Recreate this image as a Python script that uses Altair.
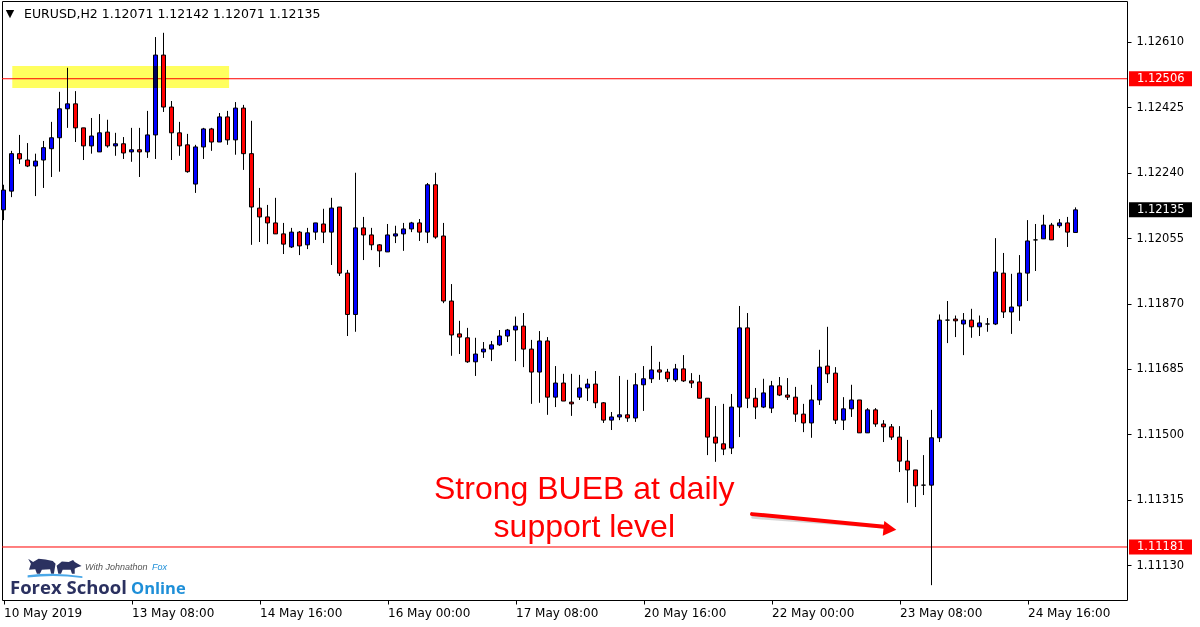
import altair as alt
import pandas as pd

# EURUSD, H2 candles (oldest first), one entry per bar
opens = [1.12135, 1.12188, 1.12294, 1.12276, 1.12259, 1.12276, 1.12308, 1.12339, 1.12421, 1.12435,
         1.12367, 1.12316, 1.12299, 1.12355, 1.12316, 1.12322, 1.12299, 1.12305, 1.12299, 1.12347,
         1.12573, 1.12426, 1.12353, 1.12319, 1.12208, 1.12313, 1.12364, 1.12327, 1.12398, 1.12333,
         1.12423, 1.12294, 1.12140, 1.12115, 1.12098, 1.12067, 1.12030, 1.12072, 1.12036, 1.12072,
         1.12095, 1.12072, 1.12143, 1.11956, 1.11839, 1.12084, 1.12064, 1.12036, 1.12016, 1.12061,
         1.12067, 1.12081, 1.12098, 1.12072, 1.12206, 1.12061, 1.11877, 1.11784, 1.11773, 1.11705,
         1.11733, 1.11741, 1.11753, 1.11778, 1.11795, 1.11806, 1.11741, 1.11676, 1.11764, 1.11605,
         1.11645, 1.11591, 1.11605, 1.11631, 1.11642, 1.11589, 1.11540, 1.11549, 1.11555, 1.11546,
         1.11640, 1.11657, 1.11682, 1.11676, 1.11654, 1.11685, 1.11651, 1.11648, 1.11602, 1.11492,
         1.11473, 1.11461, 1.11577, 1.11801, 1.11602, 1.11577, 1.11574, 1.11637, 1.11611, 1.11605,
         1.11557, 1.11532, 1.11597, 1.11693, 1.11673, 1.11540, 1.11572, 1.11597, 1.11504, 1.11569,
         1.11529, 1.11521, 1.11492, 1.11424, 1.11399, 1.11356, 1.11356, 1.11490, 1.11823, 1.11826,
         1.11812, 1.11823, 1.11804, 1.11812, 1.11812, 1.11956, 1.11846, 1.11863, 1.11956, 1.12050,
         1.12053, 1.12092, 1.12090, 1.12098, 1.12071]
highs = [1.12206, 1.12302, 1.12347, 1.12324, 1.12294, 1.12330, 1.12384, 1.12469, 1.12537, 1.12471,
         1.12367, 1.12395, 1.12406, 1.12390, 1.12353, 1.12341, 1.12367, 1.12367, 1.12415, 1.12624,
         1.12636, 1.12443, 1.12384, 1.12350, 1.12319, 1.12367, 1.12367, 1.12409, 1.12415, 1.12440,
         1.12432, 1.12387, 1.12197, 1.12149, 1.12169, 1.12098, 1.12084, 1.12075, 1.12084, 1.12098,
         1.12138, 1.12169, 1.12143, 1.11965, 1.12240, 1.12115, 1.12084, 1.12038, 1.12095, 1.12090,
         1.12098, 1.12101, 1.12109, 1.12211, 1.12240, 1.12098, 1.11925, 1.11821, 1.11801, 1.11773,
         1.11761, 1.11764, 1.11795, 1.11798, 1.11833, 1.11843, 1.11767, 1.11792, 1.11775, 1.11693,
         1.11671, 1.11671, 1.11668, 1.11657, 1.11679, 1.11591, 1.11563, 1.11665, 1.11654, 1.11673,
         1.11693, 1.11750, 1.11705, 1.11685, 1.11699, 1.11724, 1.11673, 1.11668, 1.11602, 1.11580,
         1.11586, 1.11614, 1.11863, 1.11843, 1.11631, 1.11657, 1.11651, 1.11662, 1.11659, 1.11634,
         1.11586, 1.11640, 1.11739, 1.11804, 1.11690, 1.11605, 1.11640, 1.11597, 1.11574, 1.11574,
         1.11540, 1.11529, 1.11523, 1.11484, 1.11399, 1.11441, 1.11569, 1.11839, 1.11877, 1.11836,
         1.11843, 1.11855, 1.11836, 1.11829, 1.12055, 1.12013, 1.11954, 1.12007, 1.12106, 1.12095,
         1.12121, 1.12098, 1.12109, 1.12115, 1.12142]
lows = [1.12106, 1.12171, 1.12265, 1.12256, 1.12174, 1.12197, 1.12228, 1.12243, 1.12367, 1.12327,
        1.12276, 1.12294, 1.12299, 1.12311, 1.12288, 1.12279, 1.12271, 1.12228, 1.12282, 1.12279,
        1.12412, 1.12276, 1.12288, 1.12240, 1.12183, 1.12279, 1.12302, 1.12327, 1.12319, 1.12291,
        1.12248, 1.12036, 1.12044, 1.12038, 1.12067, 1.12010, 1.12027, 1.12007, 1.12024, 1.12050,
        1.12041, 1.11979, 1.11948, 1.11778, 1.11790, 1.11993, 1.12021, 1.11973, 1.12016, 1.12041,
        1.12019, 1.12072, 1.12047, 1.12041, 1.12053, 1.11871, 1.11722, 1.11727, 1.11702, 1.11665,
        1.11716, 1.11707, 1.11750, 1.11761, 1.11707, 1.11690, 1.11586, 1.11589, 1.11555, 1.11577,
        1.11594, 1.11552, 1.11597, 1.11594, 1.11574, 1.11532, 1.11512, 1.11540, 1.11535, 1.11535,
        1.11566, 1.11645, 1.11654, 1.11648, 1.11648, 1.11648, 1.11631, 1.11602, 1.11441, 1.11422,
        1.11441, 1.11444, 1.11492, 1.11574, 1.11543, 1.11574, 1.11560, 1.11608, 1.11597, 1.11535,
        1.11506, 1.11490, 1.11583, 1.11645, 1.11529, 1.11512, 1.11549, 1.11504, 1.11504, 1.11521,
        1.11478, 1.11484, 1.11393, 1.11306, 1.11294, 1.11328, 1.11073, 1.11478, 1.11758, 1.11775,
        1.11724, 1.11773, 1.11778, 1.11790, 1.11809, 1.11829, 1.11784, 1.11821, 1.11877, 1.11962,
        1.12053, 1.12050, 1.12084, 1.12030, 1.12071]
closes = [1.12191, 1.12294, 1.12279, 1.12259, 1.12273, 1.12311, 1.12339, 1.12421, 1.12435, 1.12367,
          1.12316, 1.12344, 1.12353, 1.12316, 1.12322, 1.12296, 1.12305, 1.12299, 1.12347, 1.12573,
          1.12426, 1.12353, 1.12316, 1.12243, 1.12313, 1.12364, 1.12327, 1.12398, 1.12333, 1.12423,
          1.12294, 1.12143, 1.12115, 1.12098, 1.12067, 1.12038, 1.12072, 1.12033, 1.12070, 1.12098,
          1.12072, 1.12140, 1.11956, 1.11839, 1.12084, 1.12064, 1.12036, 1.12019, 1.12064, 1.12067,
          1.12081, 1.12098, 1.12072, 1.12206, 1.12058, 1.11877, 1.11781, 1.11775, 1.11705, 1.11727,
          1.11741, 1.11753, 1.11778, 1.11795, 1.11806, 1.11741, 1.11676, 1.11764, 1.11605, 1.11645,
          1.11594, 1.11586, 1.11631, 1.11642, 1.11589, 1.11540, 1.11549, 1.11555, 1.11546, 1.11640,
          1.11657, 1.11682, 1.11676, 1.11657, 1.11685, 1.11651, 1.11645, 1.11602, 1.11492, 1.11475,
          1.11458, 1.11577, 1.11801, 1.11602, 1.11577, 1.11617, 1.11637, 1.11611, 1.11605, 1.11557,
          1.11532, 1.11597, 1.11690, 1.11671, 1.11540, 1.11572, 1.11597, 1.11504, 1.11569, 1.11529,
          1.11521, 1.11492, 1.11424, 1.11399, 1.11354, 1.11356, 1.11490, 1.11823, 1.11823, 1.11821,
          1.11823, 1.11804, 1.11815, 1.11812, 1.11959, 1.11846, 1.11860, 1.11956, 1.12047, 1.12050,
          1.12092, 1.12050, 1.12098, 1.12072, 1.12135]

# time axis: a label every 16 bars (32 hours)
time_tick_bars = [0, 16, 32, 48, 64, 80, 96, 112, 128]
time_tick_labels = ["10 May 2019", "13 May 08:00", "14 May 16:00", "16 May 00:00", "17 May 08:00",
                    "20 May 16:00", "22 May 00:00", "23 May 08:00", "24 May 16:00"]
price_ticks = [1.11130, 1.11315, 1.11500, 1.11685, 1.11870, 1.12055, 1.12240, 1.12425, 1.12610]

# horizontal levels and the current price
level_prices = [1.12506, 1.11181]
last_price = [1.12135]

# resistance zone (bar index / price bounds)
zone_start = [1.1]
zone_end = [28.2]
zone_top = [1.12542]
zone_bottom = [1.12480]

# annotation text and arrow (bar index / price coordinates)
note_lines = ["Strong BUEB at daily", "support level"]
note_x = [72.6, 72.6]
note_y = [1.11317, 1.11209]
arrow_x = [93.56]
arrow_x2 = [110.1]
arrow_y = [1.11274]
arrow_y2 = [1.11238]
arrow_head_x = [110.8]
arrow_head_y = [1.11232]

BLUE = "#0000ff"
RED = "#ff0000"
FONT = "DejaVu Sans"

n = len(opens)
candles = pd.DataFrame({"bar": list(range(n)), "open": opens, "high": highs,
                        "low": lows, "close": closes})
candles["dir"] = ["up" if c > o else ("down" if c < o else "flat")
                  for o, c in zip(opens, closes)]

x_scale = alt.Scale(domain=[-0.1875, 140.4375], nice=False, zero=False, padding=0)
y_scale = alt.Scale(domain=[1.11031, 1.12726], nice=False, zero=False, padding=0)

label_array = "[" + ",".join("'%s'" % s for s in time_tick_labels) + "]"

x_axis = alt.Axis(values=time_tick_bars, labelExpr=label_array + "[round(datum.value/16)]",
                  labelAlign="left", labelBaseline="top", labelPadding=3, tickSize=4,
                  tickColor="black", domain=False, grid=False, title=None, labelFont=FONT,
                  labelFontSize=12, labelColor="black", labelFlush=False, labelOverlap=False)
y_axis = alt.Axis(values=price_ticks, format=".5f", orient="right", tickSize=4,
                  tickColor="black", labelPadding=5, domain=False, grid=False, title=None,
                  labelFont=FONT, labelFontSize=11.5, labelColor="black",
                  labelBaseline="middle", labelOverlap=False, labelFlush=False)


def X(field):
    return alt.X(field, scale=x_scale, axis=x_axis)


def Y(field):
    return alt.Y(field, scale=y_scale, axis=y_axis)


wicks = alt.Chart(candles).mark_rule(color="black", strokeWidth=1).encode(
    x=X("bar:Q"), y=Y("low:Q"), y2="high:Q")

bodies = alt.Chart(candles).mark_bar(size=4, stroke="black", strokeWidth=1,
                                      orient="vertical").encode(
    x=X("bar:Q"), y=Y("open:Q"), y2="close:Q",
    fill=alt.Fill("dir:N", scale=alt.Scale(domain=["up", "down", "flat"],
                                           range=[BLUE, RED, "black"]), legend=None),
)

levels = alt.Chart(pd.DataFrame({"price": level_prices})).mark_rule(
    color=RED, strokeWidth=1).encode(y=Y("price:Q"))

zone_df = pd.DataFrame({"x": zone_start, "x2": zone_end, "y": zone_top, "y2": zone_bottom})
zone = alt.Chart(zone_df).mark_rect(color="#ffff5f", blend="multiply").encode(
    x=X("x:Q"), x2="x2:Q", y=Y("y:Q"), y2="y2:Q")

# price tags on the right-hand scale
tags_df = pd.DataFrame({"price": level_prices + last_price,
                        "label": ["%.5f" % p for p in level_prices + last_price],
                        "kind": ["level", "level", "last"]})
tag_boxes = alt.Chart(tags_df).mark_rule(strokeWidth=15, strokeCap="butt").encode(
    x=alt.value(1127), x2=alt.value(1190), y=Y("price:Q"),
    color=alt.Color("kind:N", scale=alt.Scale(domain=["level", "last"], range=[RED, "black"]),
                    legend=None),
)
tag_text = alt.Chart(tags_df).mark_text(align="left", baseline="middle", font=FONT,
                                        fontSize=11.5, color="white").encode(
    x=alt.value(1135), y=Y("price:Q"), text="label:N")

note_df = pd.DataFrame({"x": note_x, "y": note_y, "text": note_lines})
note = alt.Chart(note_df).mark_text(font="Liberation Sans", fontSize=32, color=RED,
                                    align="center", baseline="alphabetic").encode(
    x=X("x:Q"), y=Y("y:Q"), text="text:N")

arrow_df = pd.DataFrame({"x": arrow_x, "x2": arrow_x2, "y": arrow_y, "y2": arrow_y2,
                         "hx": arrow_head_x, "hy": arrow_head_y})
arrow_shadow = alt.Chart(arrow_df).mark_rule(color="#bbbbbb", strokeWidth=3.5,
                                             opacity=0.6, strokeCap="round").encode(
    x=X("x:Q"), x2="x2:Q", y=Y("y:Q"), y2="y2:Q",
    yOffset=alt.value(3), xOffset=alt.value(1))
arrow_line = alt.Chart(arrow_df).mark_rule(color=RED, strokeWidth=4, strokeCap="round").encode(
    x=X("x:Q"), x2="x2:Q", y=Y("y:Q"), y2="y2:Q")
arrow_head = alt.Chart(arrow_df).mark_point(shape="triangle-right", filled=True, color=RED,
                                            size=220, angle=6, opacity=1).encode(
    x=X("hx:Q"), y=Y("hy:Q"))

# header line with symbol and last bar OHLC
header = alt.Chart(pd.DataFrame({"t": ["EURUSD,H2   %.5f %.5f %.5f %.5f" % (
    opens[-1], highs[-1], lows[-1], closes[-1])]})).mark_text(
    align="left", baseline="middle", font=FONT, fontSize=12.5, color="black").encode(
    x=alt.value(22), y=alt.value(13), text="t:N")
header_arrow = alt.Chart(pd.DataFrame({"t": ["\u25bc"]})).mark_text(
    align="center", baseline="middle", font=FONT, fontSize=11, color="black").encode(
    x=alt.value(8), y=alt.value(13), text="t:N")


# brand mark bottom-left
def brand_text(text, x, y, color, size, **kw):
    return alt.Chart(pd.DataFrame({"t": [text]})).mark_text(
        align="left", baseline="alphabetic", color=color, fontSize=size, **kw).encode(
        x=alt.value(x), y=alt.value(y), text="t:N")


BULL_BEAR = ("M-0.95,0.1 L-0.88,-0.12 L-0.98,-0.3 L-0.8,-0.18 L-0.6,-0.3 L-0.35,-0.27 "
             "L-0.08,-0.22 L0.02,-0.12 L-0.04,0.25 L-0.14,0.25 L-0.18,0.08 L-0.48,0.1 "
             "L-0.55,0.25 L-0.66,0.25 L-0.72,0.08 Z "
             "M0.06,-0.05 L0.25,-0.2 L0.5,-0.18 L0.66,-0.26 L0.72,-0.18 L0.97,-0.04 "
             "L0.8,0.02 L0.72,0.06 L0.72,0.25 L0.62,0.25 L0.57,0.1 L0.28,0.1 L0.22,0.25 "
             "L0.12,0.25 Z")
SWOOSH = "M-1,0.3 Q0,0.18 1,0.34 L1,0.4 Q0,0.26 -1,0.38 Z"

animals = alt.Chart(pd.DataFrame({"k": [0]})).mark_point(
    shape=BULL_BEAR, filled=True, color="#2b3160", opacity=1, size=3000).encode(
    x=alt.value(53), y=alt.value(566))
swoosh = alt.Chart(pd.DataFrame({"k": [0]})).mark_point(
    shape=SWOOSH, filled=True, color="#4aa8e8", opacity=1, size=3000).encode(
    x=alt.value(53), y=alt.value(566))

brand = [
    animals, swoosh,
    brand_text("Forex School", 8, 593, "#2b3160", 18.5, font="Open Sans", fontWeight="bold"),
    brand_text("Online", 129, 593, "#1e8fd8", 16.5, font="Open Sans", fontWeight="bold"),
    brand_text("With Johnathon", 83, 569, "#555555", 9, font="Liberation Sans",
               fontStyle="italic"),
    brand_text("Fox", 150, 569, "#1e8fd8", 9, font="Liberation Sans", fontStyle="italic"),
]

chart = alt.layer(
    levels, wicks, bodies, zone, tag_boxes, tag_text, note, arrow_shadow, arrow_line,
    arrow_head, header_arrow, header, *brand,
).properties(
    width=1125, height=599,
    padding={"left": 2, "top": 1, "right": 73, "bottom": 27},
    autosize=alt.AutoSizeParams(type="none"),
    background="white",
).configure_view(stroke="black", strokeWidth=1)

chart.save("out.html", embed_options={"renderer": "svg", "actions": False})
